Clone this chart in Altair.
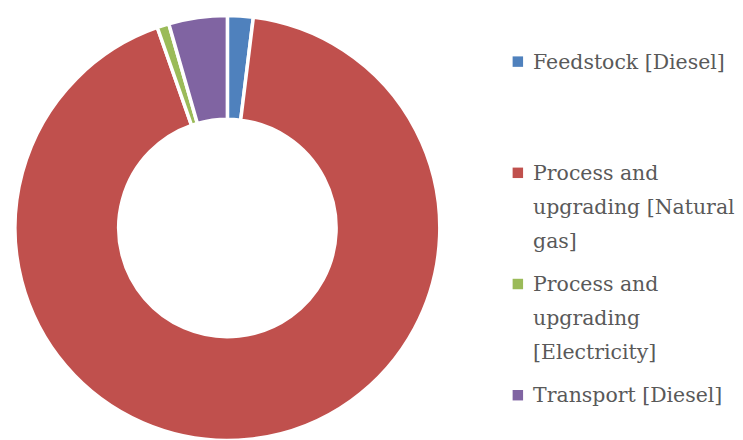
import json
import altair as alt
import pandas as pd

categories = [
    "Feedstock [Diesel]",
    "Process and upgrading [Natural gas]",
    "Process and upgrading [Electricity]",
    "Transport [Diesel]",
]
shares = [1.95, 92.7, 0.9, 4.45]
colors = ["#4F81BD", "#C0504D", "#9BBB59", "#8064A2"]
legend_lines = [
    ["Feedstock [Diesel]", "", ""],
    ["Process and", "upgrading [Natural", "gas]"],
    ["Process and", "upgrading", "[Electricity]"],
    ["Transport [Diesel]"],
]

df = pd.DataFrame({"cat": categories, "share": shares, "idx": list(range(len(categories)))})

expr = json.dumps(legend_lines[-1])
for c, lines in reversed(list(zip(categories[:-1], legend_lines[:-1]))):
    expr = f"datum.label == {json.dumps(c)} ? {json.dumps(lines)} : ({expr})"

chart = (
    alt.Chart(df)
    .mark_arc(outerRadius=213, innerRadius=109, stroke="white", strokeWidth=3.5)
    .encode(
        theta=alt.Theta("share:Q", stack=True),
        order=alt.Order("idx:Q"),
        color=alt.Color(
            "cat:N",
            scale=alt.Scale(domain=categories, range=colors),
            legend=alt.Legend(
                title=None,
                orient="none",
                legendX=497,
                legendY=34,
                padding=0,
                symbolType="M-1,0.7H1V2.7H-1Z",
                symbolSize=110,
                symbolStrokeWidth=0,
                labelExpr=expr,
                labelBaseline="top",
                labelFont="DejaVu Serif",
                labelFontSize=20.5,
                labelColor="#595959",
                labelLimit=400,
                labelOffset=5,
                rowPadding=12.5,
            ),
        ),
        tooltip=["cat", "share"],
    )
    .properties(width=432, height=440, padding=0)
    .configure_view(stroke=None)
    .configure(style={"guide-label": {"lineHeight": 34}})
)

chart.save("out.html", embed_options={"renderer": "svg", "actions": False})
